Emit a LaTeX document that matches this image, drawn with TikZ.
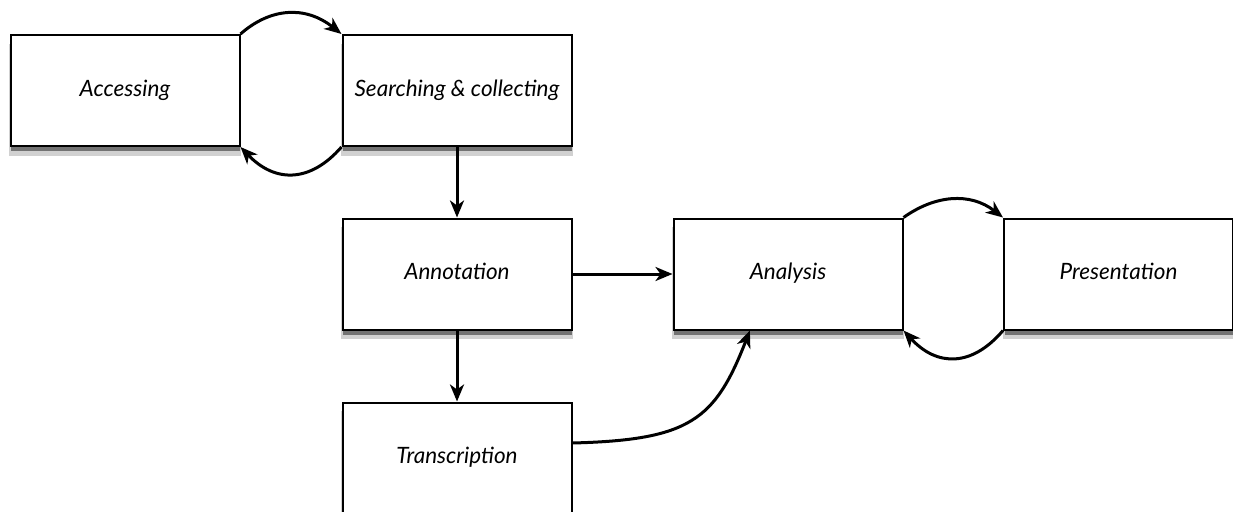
\documentclass[tikz,border=0pt]{standalone}
\usepackage{fontspec}
\setmainfont{Lato}
\usepackage{tikz}
\usetikzlibrary{arrows.meta, shadows}

\begin{document}
\begin{tikzpicture}[
      x=1pt, y=-1pt,
      mybox/.style={
         rectangle,
         draw=black,
         line width=2pt,
         fill=white,
         inner sep=0pt,
         minimum width=229pt,
         minimum height=111pt,
         text height=11pt,
         text depth=0pt,
         drop shadow={shadow xshift=0pt, shadow yshift=-9pt, shadow scale=1.01, fill=black, opacity=0.18},
         drop shadow={shadow xshift=0.5pt, shadow yshift=-5pt, fill=black, opacity=0.45},
         font=\fontsize{22.5}{26}\selectfont\itshape},
      myarrow/.style={-{Stealth[length=17pt,width=14pt,inset=5pt]}, line width=3pt}
      ]
      \useasboundingbox (0,0) rectangle (1233,511);
      \begin{scope}
      \clip (0,0) rectangle (1233,511);
      \node[mybox] at (125, 90.5) (acc) {Accessing};
      \node[mybox] at (457, 90.5) (sea) {Searching \& collecting};
      \node[mybox] at (457, 274) (ann) {Annotation};
      \node[mybox] at (457, 458) (tra) {Transcription};
      \node[mybox] at (788, 274) (ana) {Analysis};
      \node[mybox] at (1118.5, 274) (pre) {Presentation};
      \end{scope}

    \foreach \i/\j in {% start node/end node
      sea/ann,
      ann/tra}
       \draw [myarrow] (\i.south) -- (\j.north);
    \draw [myarrow] (ann.east) -- (ana.west);

    % loops between neighbours
    \draw [myarrow] (acc.north east) .. controls (270,8) and (305,5) .. (sea.north west);
    \draw [myarrow] (sea.south west) .. controls (310,183) and (275,183) .. (acc.south east);
    \draw [myarrow] (ana.north east) .. controls (935,195) and (970,192) .. (pre.north west);
    \draw [myarrow] (pre.south west) .. controls (972,367) and (937,367) .. (ana.south east);

    \draw [myarrow] ([yshift=15pt]tra.east) .. controls (690,440) and (715,420) .. (ana.236);

    \end{tikzpicture}
\end{document}
